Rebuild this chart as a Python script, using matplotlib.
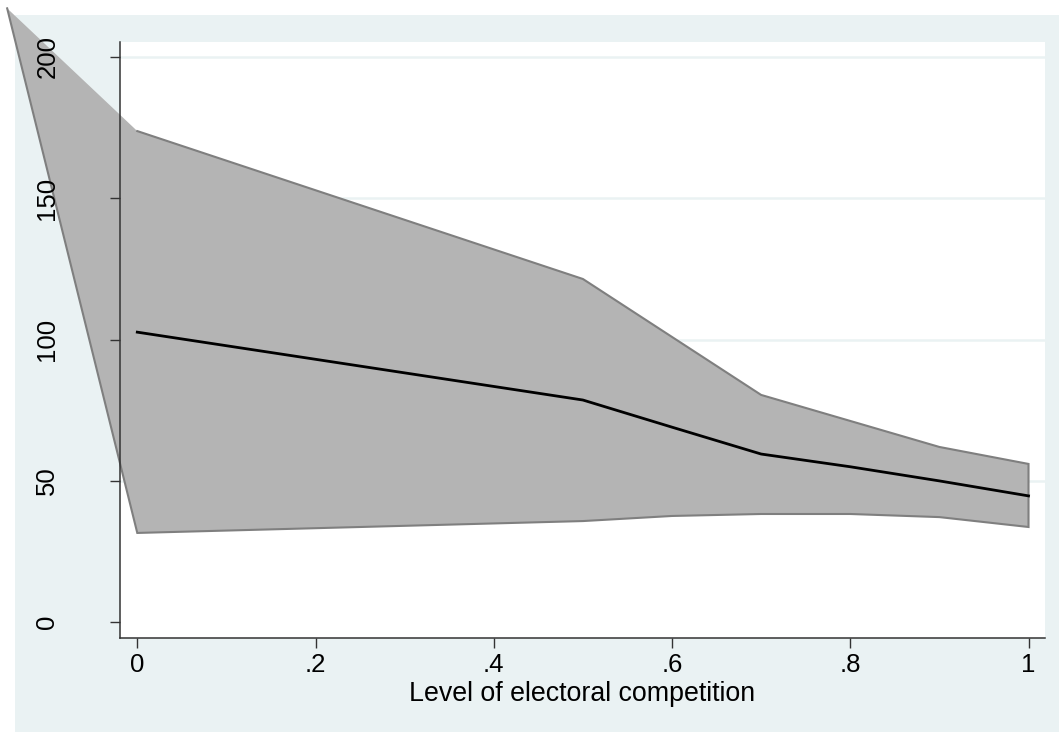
import matplotlib
matplotlib.use('Agg')
import matplotlib.pyplot as plt
from matplotlib.patches import Rectangle

# ---- data ----
x = [0.0, 0.5, 0.6, 0.7, 0.8, 0.9, 1.0]
mean = [102.6, 78.6, 69.0, 59.5, 55.0, 50.0, 44.7]
upper = [173.7, 121.4, 100.9, 80.4, 71.2, 62.0, 56.0]
lower = [31.6, 35.8, 37.6, 38.3, 38.3, 37.2, 33.7]
# stray vertex of the confidence band (drawn outside the plot region)
stray_x = -0.146
stray_y = 217.1

xticks = [0, 0.2, 0.4, 0.6, 0.8, 1.0]
xticklabels = ['0', '.2', '.4', '.6', '.8', '1']
yticks = [0, 50, 100, 150, 200]
yticklabels = ['0', '50', '100', '150', '200']
xlabel = 'Level of electoral competition'

W, H = 1059, 732
plt.rcParams['font.family'] = ['Liberation Sans', 'DejaVu Sans']

fig = plt.figure(figsize=(W / 100, H / 100), dpi=100)
fig.patch.set_facecolor('white')
fig.add_artist(Rectangle((15 / W, 0), 1 - 15 / W, 1 - 15 / H,
                         transform=fig.transFigure, facecolor='#EAF2F3',
                         edgecolor='none', zorder=-10))

ax = fig.add_axes([120 / W, 1 - 638 / H, (1045 - 120) / W, (638 - 42) / H])
ax.set_facecolor('white')
ax.set_xlim(-0.0194, 1.0185)
ax.set_ylim(-5.55, 205.2)

# grid
for yv in yticks[1:]:
    ax.axhline(yv, color='#EAF2F3', lw=1.8, zorder=0.5)

# band
poly_x = x[::-1] + [stray_x] + x
poly_y = upper[::-1] + [stray_y] + lower
ax.fill(poly_x, poly_y, facecolor='#B4B4B4', edgecolor='none', zorder=1, clip_on=False)
out_x = x + x[::-1] + [stray_x]
out_y = upper + lower[::-1] + [stray_y]
ax.plot(out_x, out_y, color='#7F7F7F', lw=1.5, zorder=1.2, clip_on=False,
        solid_joinstyle='miter')

# mean line
ax.plot(x, mean, color='black', lw=2.0, zorder=1.5)

for s in ['top', 'right']:
    ax.spines[s].set_visible(False)
for s in ['left', 'bottom']:
    ax.spines[s].set_color('#333333')
    ax.spines[s].set_linewidth(1.1)
    ax.spines[s].set_zorder(3)

ax.set_xticks(xticks)
ax.set_xticklabels(xticklabels)
ax.set_yticks(yticks)
ax.set_yticklabels(yticklabels, rotation=90, va='center')
ax.tick_params(axis='both', direction='out', length=7.2, width=1.0,
               color='#333333', labelsize=18.5, labelcolor='black')
ax.tick_params(axis='x', pad=3.5)
ax.tick_params(axis='y', pad=36.5)

ax.set_xlabel(xlabel, fontsize=19.3, color='black')
ax.xaxis.set_label_coords(0.5, (638 - 701) / (638 - 42))
ax.xaxis.label.set_verticalalignment('baseline')

fig.savefig('out.png', dpi=100, facecolor=fig.get_facecolor())
